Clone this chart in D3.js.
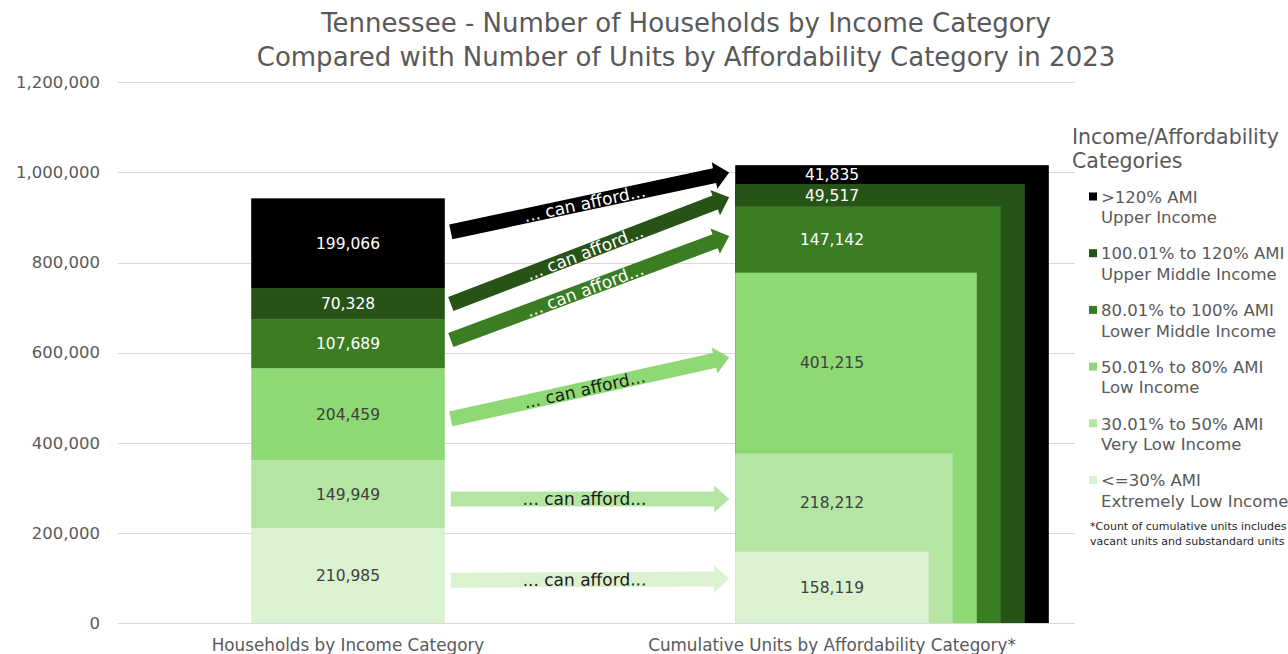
<!DOCTYPE html>
<html>
<head>
<meta charset="utf-8">
<script src="https://cdn.jsdelivr.net/npm/d3@7"></script>
<style>
  html, body { margin: 0; padding: 0; background: #ffffff; }
  svg { display: block; font-family: "DejaVu Sans", "Noto Sans", sans-serif; }
</style>
</head>
<body>
<svg id="chart" width="1288" height="654"></svg>
<script>
// ---------- data ----------
const categories = ["Households by Income Category", "Cumulative Units by Affordability Category*"];
const levelRanges = ["<=30% AMI", "30.01% to 50% AMI", "50.01% to 80% AMI", "80.01% to 100% AMI", "100.01% to 120% AMI", ">120% AMI"];
const levelNames = ["Extremely Low Income", "Very Low Income", "Low Income", "Lower Middle Income", "Upper Middle Income", "Upper Income"];
const households = [210985, 149949, 204459, 107689, 70328, 199066];
const units = [158119, 218212, 401215, 147142, 49517, 41835];
const colors = ["#daf2d0", "#b4e5a2", "#8ed973", "#3a7d22", "#275317", "#000000"];
const labelColors = ["#404040", "#404040", "#404040", "#ffffff", "#ffffff", "#ffffff"];
const yTicks = [0, 200000, 400000, 600000, 800000, 1000000, 1200000];
const arrowFrom = [95000, 275000, 453000, 628000, 708000, 868000];
const arrowTo = [98000, 275000, 590000, 859000, 945000, 1000000];
const arrowText = "... can afford...";
const titleLines = ["Tennessee - Number of Households by Income Category",
                    "Compared with Number of Units by Affordability Category in 2023"];
const legendTitle = ["Income/Affordability", "Categories"];
const footnote = ["*Count of cumulative units includes", "vacant units and substandard units"];

// ---------- layout ----------
const svg = d3.select("#chart");
const plotLeft = 118, plotRight = 1075;
const y = d3.scaleLinear().domain([0, 1200000]).range([623, 82.3]);
const x = d3.scaleBand().domain(categories).range([106, 1074]).paddingInner(0.6).paddingOuter(0.3);
const bw = x.bandwidth();
const fmt = d3.format(",");
const grey = "#595959";

// gridlines
svg.append("g").selectAll("line").data(yTicks).join("line")
  .attr("x1", plotLeft).attr("x2", plotRight)
  .attr("y1", d => Math.round(y(d)) + 0.5).attr("y2", d => Math.round(y(d)) + 0.5)
  .attr("stroke", "#d9d9d9").attr("stroke-width", 1);

// y axis labels
svg.append("g").selectAll("text").data(yTicks).join("text")
  .attr("x", 100).attr("y", d => y(d)).attr("dy", "0.35em")
  .attr("text-anchor", "end").attr("font-size", 16.5).attr("fill", grey)
  .text(d => fmt(d));

// title
svg.append("g").selectAll("text").data(titleLines).join("text")
  .attr("x", 686).attr("y", (d, i) => 32 + i * 34)
  .attr("text-anchor", "middle").attr("font-size", 26).attr("fill", grey)
  .text(d => d);

// ---------- left stacked bar ----------
const hhStack = [];
let acc = 0;
households.forEach((v, i) => { hhStack.push({ i, y0: acc, y1: acc + v, v }); acc += v; });
const x0 = x(categories[0]);
svg.append("g").selectAll("rect").data(hhStack).join("rect")
  .attr("x", x0).attr("width", bw)
  .attr("y", d => y(d.y1)).attr("height", d => y(d.y0) - y(d.y1))
  .attr("fill", d => colors[d.i]);
svg.append("g").selectAll("text").data(hhStack).join("text")
  .attr("x", x0 + bw / 2).attr("y", d => y((d.y0 + d.y1) / 2)).attr("dy", "0.35em")
  .attr("text-anchor", "middle").attr("font-size", 15.5)
  .attr("fill", d => labelColors[d.i]).text(d => fmt(d.v));

// ---------- right cumulative nested bars ----------
const unitStack = [];
acc = 0;
units.forEach((v, i) => { unitStack.push({ i, y0: acc, y1: acc + v, v }); acc += v; });
const x1 = x(categories[1]);
const grow = bw * 0.124;
svg.append("g").selectAll("rect").data(unitStack.slice().reverse()).join("rect")
  .attr("x", x1).attr("width", d => bw + d.i * grow)
  .attr("y", d => y(d.y1)).attr("height", d => y(0) - y(d.y1))
  .attr("fill", d => colors[d.i]);
svg.append("g").selectAll("text").data(unitStack).join("text")
  .attr("x", x1 + bw / 2).attr("y", d => y((d.y0 + d.y1) / 2)).attr("dy", "0.35em")
  .attr("text-anchor", "middle").attr("font-size", 15.5)
  .attr("fill", d => labelColors[d.i]).text(d => fmt(d.v));

// ---------- arrows ----------
const tailX = x0 + bw + 6, tipX = x1 - 6;
const arrows = arrowFrom.map((f, i) => ({ i, f, t: arrowTo[i] }));
const ag = svg.append("g");
arrows.forEach(a => {
  const sx = tailX, sy = y(a.f), ex = tipX, ey = y(a.t);
  const L = Math.hypot(ex - sx, ey - sy);
  const ang = Math.atan2(ey - sy, ex - sx) * 180 / Math.PI;
  const s = 7.5, h = 13.5, hl = 15;
  const pts = [[0, -s], [L - hl, -s], [L - hl, -h], [L, 0], [L - hl, h], [L - hl, s], [0, s]];
  const g = ag.append("g").attr("transform", `translate(${sx},${sy}) rotate(${ang})`);
  g.append("polygon").attr("points", pts.map(p => p.join(",")).join(" ")).attr("fill", colors[a.i]);
  g.append("text").attr("x", (L - hl) / 2 + 2).attr("y", 0).attr("dy", "0.36em")
    .attr("text-anchor", "middle").attr("font-size", 17)
    .attr("fill", a.i >= 3 ? "#ffffff" : "#1a1a1a").text(arrowText);
});

// ---------- x axis labels ----------
svg.append("g").selectAll("text").data(categories).join("text")
  .attr("x", d => x(d) + bw / 2).attr("y", 645).attr("dy", "0.35em")
  .attr("text-anchor", "middle").attr("font-size", 16.8).attr("fill", grey)
  .text(d => d);

// ---------- legend ----------
const lg = svg.append("g");
lg.selectAll("text.lt").data(legendTitle).join("text").attr("class", "lt")
  .attr("x", 1072).attr("y", (d, i) => 137 + i * 24).attr("dy", "0.35em")
  .attr("font-size", 20.5).attr("fill", grey).text(d => d);
const order = d3.range(levelRanges.length).reverse();
const items = lg.selectAll("g.item").data(order).join("g").attr("class", "item")
  .attr("transform", (d, k) => `translate(1089, ${197 + k * 56.7})`);
items.append("rect").attr("x", 0).attr("y", -4.5).attr("width", 8).attr("height", 8)
  .attr("fill", d => colors[d]);
items.append("text").attr("x", 12).attr("y", 0).attr("dy", "0.35em")
  .attr("font-size", 16.5).attr("fill", grey).text(d => levelRanges[d]);
items.append("text").attr("x", 12).attr("y", 20.5).attr("dy", "0.35em")
  .attr("font-size", 16.5).attr("fill", grey).text(d => levelNames[d]);
lg.selectAll("text.fn").data(footnote).join("text").attr("class", "fn")
  .attr("x", 1090).attr("y", (d, i) => 526 + i * 15.5).attr("dy", "0.35em")
  .attr("font-size", 11).attr("fill", "#262626").text(d => d);
</script>
</body>
</html>
